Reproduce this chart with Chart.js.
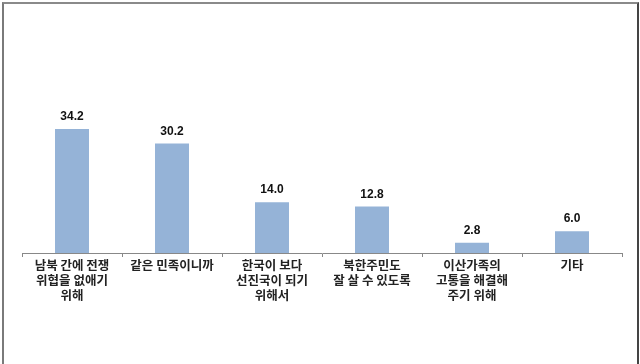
<!DOCTYPE html>
<html>
<head>
<meta charset="utf-8">
<script src="https://cdn.jsdelivr.net/npm/chart.js@4"></script>
<style>
  body { margin: 0; background: #fff; }
  #wrap { position: relative; width: 640px; height: 364px; }
  #frame {
    position: absolute; left: 2px; top: 2px; width: 633px; height: 364px;
    border-top: 2px solid #8a8a8a; border-left: 2px solid #7a7a7a; border-right: 2px solid #444;
    pointer-events: none;
  }
</style>
</head>
<body>
<div id="wrap">
  <canvas id="reasonChart" width="640" height="364"></canvas>
  <div id="frame"></div>
</div>
<script>
// reasons (multi-line labels) and percentages
const categories = [
  ["남북 간에 전쟁", "위협을 없애기", "위해"],
  ["같은 민족이니까"],
  ["한국이 보다", "선진국이 되기", "위해서"],
  ["북한주민도", "잘 살 수 있도록"],
  ["이산가족의", "고통을 해결해", "주기 위해"],
  ["기타"]
];
const percentages = [34.2, 30.2, 14.0, 12.8, 2.8, 6.0];

// draws the value above each bar
const valueLabels = {
  id: "valueLabels",
  afterDatasetsDraw(chart) {
    const ctx = chart.ctx;
    const meta = chart.getDatasetMeta(0);
    ctx.save();
    ctx.font = "bold 12px 'Liberation Sans', Arial, sans-serif";
    ctx.fillStyle = "#111";
    ctx.textAlign = "center";
    ctx.textBaseline = "alphabetic";
    meta.data.forEach((bar, i) => {
      ctx.fillText(percentages[i].toFixed(1), bar.x, bar.y - 9);
    });
    ctx.restore();
  }
};

function renderChart() {
  const ctx = document.getElementById("reasonChart").getContext("2d");
  new Chart(ctx, {
    type: "bar",
    data: {
      labels: categories,
      datasets: [
        {
          data: percentages,
          backgroundColor: "#95b3d7",
          borderWidth: 0,
          categoryPercentage: 1,
          barPercentage: 0.34,
        },
      ],
    },
    options: {
      responsive: false,
      animation: false,
      layout: { padding: { left: 22, right: 18, top: 108, bottom: 0 } },
      plugins: { legend: { display: false }, tooltip: { enabled: false } },
      scales: {
        x: {
          afterFit: (scale) => { scale.height = 111; },
          border: { color: "#888", width: 1 },
          grid: { drawOnChartArea: false, tickLength: 4, color: "#888" },
          ticks: {
            color: "#222",
            padding: 1,
            maxRotation: 0,
            autoSkip: false,
            font: { family: "'Noto Sans CJK KR', sans-serif", size: 12.5, weight: "bold", lineHeight: 1.2 },
          },
        },
        y: { display: false, min: 0, max: 40 },
      },
    },
    plugins: [valueLabels],
  });
}

document.addEventListener("DOMContentLoaded", () => {
  renderChart();
});
</script>
</body>
</html>
